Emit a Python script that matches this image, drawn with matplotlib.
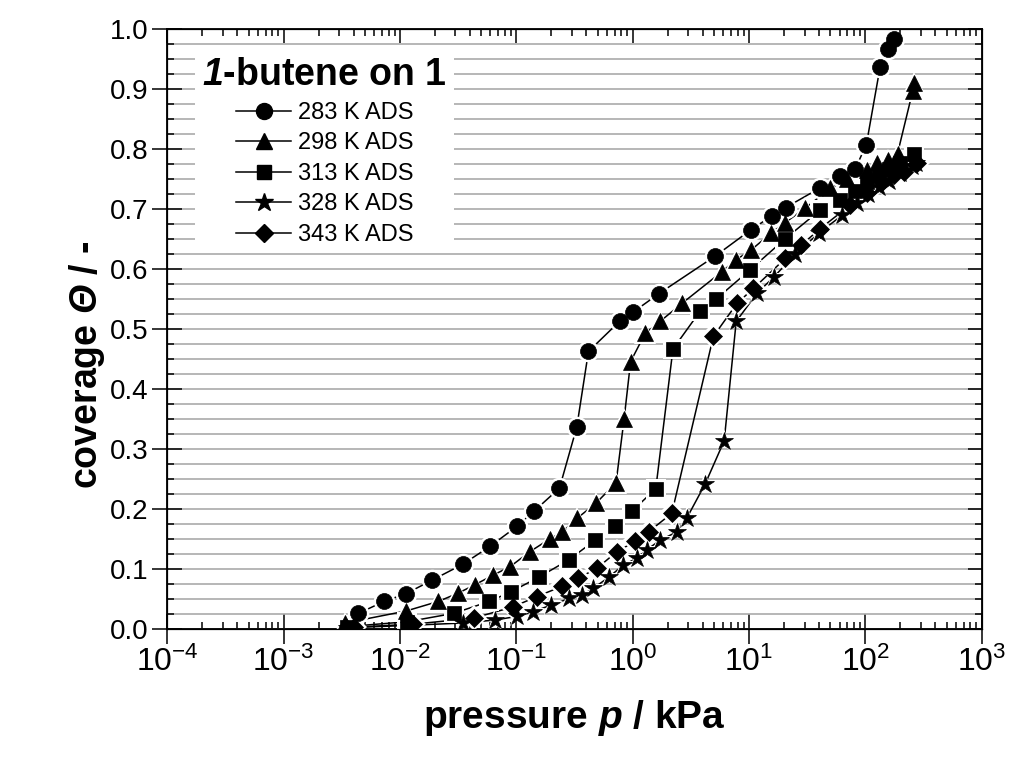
import math
import matplotlib
matplotlib.use('Agg')
import matplotlib.pyplot as plt
from matplotlib.ticker import MultipleLocator, LogLocator, FuncFormatter, NullFormatter
from matplotlib.lines import Line2D

plt.rcParams['font.family'] = ['Liberation Sans', 'DejaVu Sans']
plt.rcParams['mathtext.fontset'] = 'custom'
# rm is used for the bold italic symbols (digits / Greek are forced to rm by mathtext)
plt.rcParams['mathtext.rm'] = 'Liberation Sans:italic:bold'
plt.rcParams['mathtext.it'] = 'Liberation Sans:italic:bold'
plt.rcParams['mathtext.sf'] = 'Liberation Sans'

# 283 K
p283 = [0.0044, 0.0073, 0.0113, 0.0187, 0.0347, 0.0596, 0.101, 0.143, 0.235, 0.331,
        0.417, 0.78, 1.0, 1.67, 5.12, 10.4, 15.7, 20.7, 41, 60, 82, 102, 134, 155, 177]
t283 = [0.026, 0.046, 0.059, 0.081, 0.108, 0.138, 0.171, 0.197, 0.235, 0.337,
        0.463, 0.514, 0.528, 0.559, 0.622, 0.666, 0.689, 0.703, 0.736, 0.755, 0.768, 0.808, 0.938, 0.967, 0.984]
# 298 K
p298 = [0.0034, 0.0113, 0.0214, 0.0318, 0.0443, 0.0635, 0.0885, 0.131, 0.193, 0.246, 0.335,
        0.485, 0.72, 0.845, 0.96, 1.28, 1.72, 2.65, 5.85, 7.76, 10.4, 15.4, 20.5, 30.4, 49.9,
        70, 103, 126, 155, 189, 255, 262]
t298 = [0.010, 0.030, 0.046, 0.060, 0.074, 0.090, 0.104, 0.129, 0.150, 0.161, 0.185,
        0.210, 0.244, 0.351, 0.446, 0.493, 0.513, 0.543, 0.596, 0.616, 0.632, 0.660, 0.678, 0.702, 0.735,
        0.750, 0.765, 0.777, 0.782, 0.793, 0.897, 0.910]
# 313 K
p313 = [0.0035, 0.0115, 0.0289, 0.0588, 0.090, 0.158, 0.281, 0.475, 0.706, 0.98, 1.58,
        2.22, 3.8, 5.19, 10.2, 20.2, 41, 60, 82, 103, 130, 160, 200, 260]
t313 = [0.004, 0.012, 0.026, 0.046, 0.062, 0.087, 0.115, 0.148, 0.171, 0.196, 0.234,
        0.467, 0.530, 0.550, 0.599, 0.650, 0.699, 0.715, 0.730, 0.745, 0.757, 0.767, 0.777, 0.793]
# 328 K
p328 = [0.0035, 0.012, 0.035, 0.066, 0.101, 0.140, 0.20, 0.286, 0.37, 0.46, 0.63, 0.834,
        1.09, 1.32, 1.72, 2.4, 2.92, 4.2, 6.12, 7.76, 11.7, 16.3, 25, 39.6, 63, 85, 105,
        130, 160, 200, 250, 275]
t328 = [0.002, 0.006, 0.010, 0.015, 0.021, 0.029, 0.040, 0.051, 0.057, 0.068, 0.087, 0.107,
        0.118, 0.132, 0.148, 0.162, 0.185, 0.242, 0.314, 0.513, 0.560, 0.587, 0.625, 0.660, 0.690, 0.710, 0.725,
        0.737, 0.748, 0.760, 0.772, 0.778]
# 343 K
p343 = [0.004, 0.013, 0.0429, 0.094, 0.15, 0.246, 0.342, 0.492, 0.731, 1.05, 1.37, 2.17,
        4.94, 7.87, 10.9, 20.5, 28, 41, 74, 103, 140, 175, 213, 277]
t343 = [0.003, 0.008, 0.018, 0.037, 0.054, 0.071, 0.085, 0.101, 0.129, 0.146, 0.162, 0.193,
        0.488, 0.543, 0.568, 0.618, 0.640, 0.668, 0.707, 0.727, 0.745, 0.757, 0.763, 0.777]

labels = ['283 K ADS', '298 K ADS', '313 K ADS', '328 K ADS', '343 K ADS']
series = [(p283, t283), (p298, t298), (p313, t313), (p328, t328), (p343, t343)]
markers = ['o', '^', 's', '*', 'D']
msizes = [11.5, 12, 10, 13.5, 9.5]

fig = plt.figure(figsize=(10.1, 7.6), dpi=100)
ax = fig.add_axes([0.1656, 0.1724, 0.8064, 0.7888])

# lines first, then white halos (gap to symbol), then the symbols
for (p, t) in series:
    ax.plot(p, t, '-', color='k', lw=1.1, zorder=2)
for (p, t), m, s in zip(series, markers, msizes):
    ax.plot(p, t, ls='none', marker=m, ms=s + 4, mfc='white', mec='white', mew=0, zorder=3)
for (p, t), m, s in zip(series, markers, msizes):
    ax.plot(p, t, ls='none', marker=m, ms=s, mfc='k', mec='k', mew=0.5, zorder=4)

ax.set_xscale('log')
ax.set_xlim(1e-4, 1e3)
ax.set_ylim(0, 1.0)
ax.yaxis.set_major_locator(MultipleLocator(0.1))
ax.yaxis.set_minor_locator(MultipleLocator(0.025))
ax.yaxis.set_major_formatter(FuncFormatter(lambda v, pos: '%.1f' % v))
ax.xaxis.set_major_locator(LogLocator(base=10, numticks=20))
ax.xaxis.set_minor_locator(LogLocator(base=10, subs=range(2, 10), numticks=20))
ax.xaxis.set_minor_formatter(NullFormatter())
ax.xaxis.set_major_formatter(FuncFormatter(lambda v, pos: r'$\mathsf{10^{%d}}$' % round(math.log10(v))))

ax.grid(True, axis='y', which='both', color='#aaaaaa', lw=1.2, zorder=0)
ax.set_axisbelow(True)

ax.tick_params(which='major', direction='inout', length=21.5, width=1.1, colors='k')
ax.tick_params(which='minor', direction='in', length=5, width=1.1)
ax.tick_params(axis='y', labelsize=20, pad=3)
ax.tick_params(axis='x', labelsize=23, pad=2)
for sp in ax.spines.values():
    sp.set_linewidth(1.3)

axt = ax.twiny()
axt.set_xscale('log')
axt.set_xlim(1e-4, 1e3)
axt.xaxis.set_major_locator(LogLocator(base=10, numticks=20))
axt.xaxis.set_minor_locator(LogLocator(base=10, subs=range(2, 10), numticks=20))
axt.tick_params(which='major', direction='in', length=10, width=1.1, labeltop=False)
axt.tick_params(which='minor', direction='in', length=5, width=1.1)
axr = ax.twinx()
axr.set_ylim(0, 1.0)
axr.yaxis.set_major_locator(MultipleLocator(0.1))
axr.yaxis.set_minor_locator(MultipleLocator(0.025))
axr.tick_params(which='major', direction='in', length=10, width=1.1, labelright=False)
axr.tick_params(which='minor', direction='in', length=5, width=1.1)

ax.set_xlabel(r'pressure $\mathrm{p}$ / kPa', fontsize=28, fontweight='bold')
ax.xaxis.set_label_coords(0.5, -0.115)
ax.set_ylabel(r'coverage $\mathrm{\Theta}$ / -', fontsize=27, fontweight='bold')
ax.yaxis.set_label_coords(-0.074, 0.44)

handles = [Line2D([], [], color='k', lw=1.1, marker=m, ms=s, mfc='k', mec='k')
           for m, s in zip(markers, msizes)]
leg = axr.legend(handles, labels, loc='upper left', bbox_to_anchor=(0.02, 0.985),
                 title=r'$\mathrm{1}$-butene on 1', fontsize=17, frameon=True,
                 fancybox=False, handlelength=2.3, handletextpad=0.3, labelspacing=0.36,
                 borderpad=0.3)
leg.get_title().set_fontsize(27)
leg.get_title().set_fontweight('bold')
leg.get_frame().set_edgecolor('none')
leg.get_frame().set_facecolor('white')
leg.get_frame().set_alpha(1)

fig.savefig('out.png', dpi=100)
